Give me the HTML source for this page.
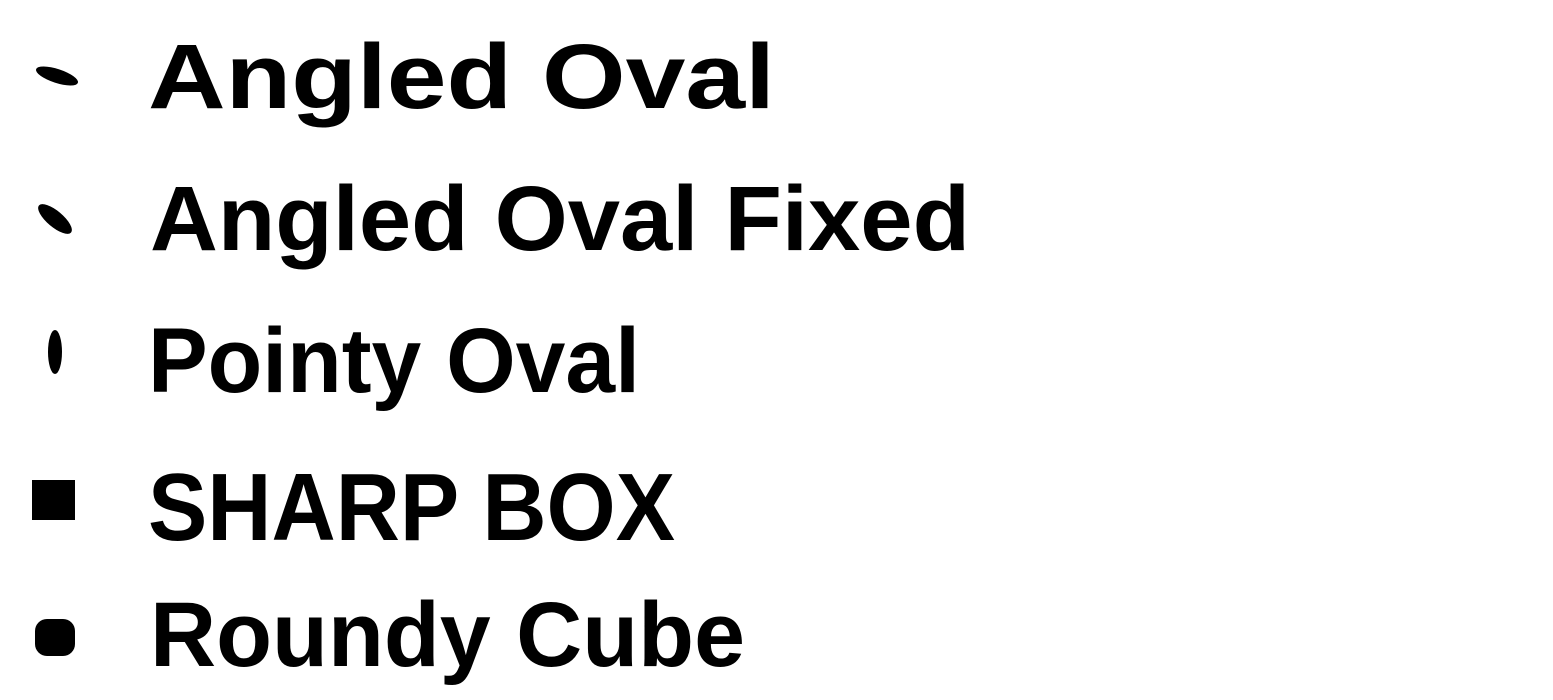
<!DOCTYPE html>
<html><head><meta charset="utf-8"><style>
html,body{margin:0;padding:0;background:#fff;width:1553px;height:700px;overflow:hidden}
text{font-family:"Liberation Sans",sans-serif;font-weight:bold;fill:#000}
</style></head><body>
<svg width="1553" height="700" xmlns="http://www.w3.org/2000/svg">
<ellipse cx="57" cy="76" rx="22" ry="7" transform="rotate(18 57 76)" fill="#000"/>
<ellipse cx="55" cy="219" rx="21" ry="8" transform="rotate(40 55 219)" fill="#000"/>
<ellipse cx="55" cy="352" rx="7" ry="22" fill="#000"/>
<rect x="32" y="480" width="43" height="40" fill="#000"/>
<rect x="35" y="619" width="40" height="37" rx="12" fill="#000"/>
<text x="148" y="108" font-size="92" textLength="627" lengthAdjust="spacingAndGlyphs">Angled Oval</text>
<text x="150" y="250" font-size="92" textLength="820" lengthAdjust="spacingAndGlyphs">Angled Oval Fixed</text>
<text x="148" y="392" font-size="92" textLength="492" lengthAdjust="spacingAndGlyphs">Pointy Oval</text>
<text x="148" y="540" font-size="96" textLength="527" lengthAdjust="spacingAndGlyphs">SHARP BOX</text>
<text x="150" y="666" font-size="92" textLength="595" lengthAdjust="spacingAndGlyphs">Roundy Cube</text>
</svg>
</body></html>
